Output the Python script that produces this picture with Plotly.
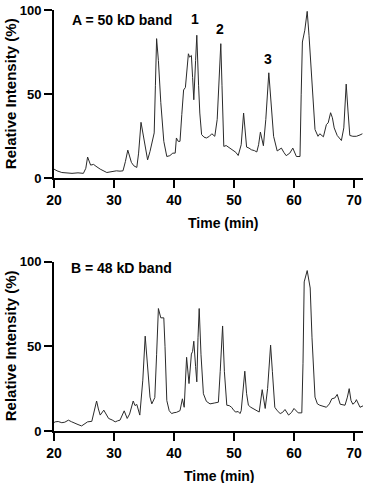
import plotly.graph_objects as go

# Panel A: 50 kD band
time_a = [20.0, 20.5, 21.3, 22.0, 23.0, 24.0, 24.9, 25.3, 25.6, 26.1, 26.6, 27.0, 27.7, 28.8, 29.5,
          30.4, 31.0, 31.5, 31.9, 32.3, 32.9, 33.3, 33.8, 34.1, 34.5, 35.1, 35.6, 36.0, 36.3, 36.7,
          36.9, 37.1, 37.4, 37.8, 38.3, 38.8, 39.3, 39.8, 40.2, 40.4, 40.7, 41.0, 41.3, 41.6, 41.9,
          42.2, 42.4, 42.6, 42.9, 43.1, 43.3, 43.6, 43.8, 44.1, 44.3, 44.6, 45.0, 45.4, 45.9, 46.3,
          46.8, 47.2, 47.5, 47.8, 48.0, 48.3, 48.7, 49.3, 49.9, 50.3, 50.7, 51.2, 51.6, 52.1, 52.5,
          52.9, 53.4, 53.8, 54.1, 54.4, 54.9, 55.3, 55.8, 56.1, 56.6, 57.2, 57.9, 58.3, 58.7, 59.3,
          59.8, 60.4, 61.0, 61.2, 61.4, 61.8, 62.2, 62.5, 62.9, 63.2, 63.5, 64.0, 64.3, 64.9, 65.4,
          65.7, 66.1, 66.4, 66.7, 67.2, 67.9, 68.3, 68.7, 69.0, 69.3, 69.8, 70.4, 71.0, 71.4]
int_a = [5.5, 4.5, 3.5, 3.2, 3.0, 3.3, 3.0, 6, 12.7, 7.9, 8.3, 7.2, 5.5, 3.5, 4.0,
         4.5, 4.3, 4.5, 10, 16.8, 9.5, 7.5, 6.5, 15, 33.3, 21.2, 11, 16, 21, 27,
         55, 83, 70, 45, 22, 13, 13.5, 15, 15, 24, 22, 22, 38, 52.5, 54,
         68, 74, 72, 73, 60, 46.7, 70, 85, 55, 38.8, 26, 24.5, 24, 25, 26.5,
         25, 35, 60, 80, 55, 19, 19.5, 18, 16, 15.5, 13.6, 20, 38.8, 18.6, 18,
         17, 16.5, 15.7, 20, 27.5, 19.4, 35, 62.7, 50, 25, 16.3, 18, 15.5, 13.5, 15,
         18, 13, 13, 50, 81, 88, 99.2, 85, 64, 45, 29, 25, 26.5, 24.7, 32,
         33, 39, 36, 30, 25.5, 22.5, 30, 56, 40, 25.5, 25, 25, 25.8, 26.5]

# Panel B: 48 kD band
time_b = [20.0, 20.2, 20.7, 21.3, 21.8, 22.4, 22.9, 23.5, 24.0, 24.6, 25.1, 25.6, 26.3, 26.7, 27.1,
          27.4, 27.7, 28.3, 28.7, 29.1, 29.7, 30.2, 30.6, 31.0, 31.7, 32.2, 32.6, 32.9, 33.2, 33.5,
          33.8, 34.3, 34.8, 35.2, 35.6, 36.0, 36.3, 36.8, 37.1, 37.4, 37.8, 38.3, 38.5, 38.8, 39.2,
          39.6, 40.0, 40.4, 41.0, 41.4, 41.7, 41.9, 42.1, 42.5, 42.9, 43.1, 43.3, 43.6, 43.8, 44.0,
          44.2, 44.5, 44.9, 45.4, 46.0, 46.7, 47.4, 47.7, 48.1, 48.4, 48.8, 49.2, 49.6, 50.0, 50.3,
          50.7, 51.0, 51.2, 51.5, 51.8, 52.1, 52.4, 52.8, 53.2, 53.7, 54.2, 54.7, 55.2, 55.6, 55.9,
          56.1, 56.4, 56.8, 57.2, 57.7, 58.1, 58.5, 59.1, 59.6, 60.0, 60.4, 60.7, 61.3, 61.5, 61.7,
          62.2, 62.7, 63.0, 63.5, 63.9, 64.3, 65.4, 65.9, 66.3, 66.8, 67.2, 67.7, 68.5, 68.9, 69.2,
          69.5, 69.8, 70.2, 70.4, 71.0, 71.6]
int_b = [5, 5.4, 5.6, 4.9, 5.2, 6.4, 5.5, 4.3, 3.8, 3, 4.2, 5.4, 5.7, 12, 17.7,
         13, 9.4, 12.3, 9.5, 7.4, 6.5, 5.4, 6.0, 6.4, 11.9, 7.4, 10, 14, 17.7, 15,
         15.7, 9.4, 30, 56, 35, 20, 16, 19.7, 45, 72.3, 66.8, 66.8, 50, 18, 12,
         10.3, 10.8, 11, 12, 19, 14, 30, 43.5, 28, 45.4, 47, 53, 38, 29, 55,
         72.3, 45, 22, 17.5, 16, 16.5, 17, 35, 62, 35, 15.2, 15, 14, 12, 11.2,
         11.5, 10.3, 12, 25, 35.3, 22, 15.2, 14, 13.3, 12.5, 11.2, 24.4, 13.3, 25, 45,
         50.7, 35, 14, 12, 10.3, 11, 12.7, 9.4, 11, 13.3, 12, 10.7, 10.7, 40, 88,
         94.7, 84.4, 55, 20, 16, 15.2, 14, 16, 19, 19.5, 21.6, 15.8, 15.2, 20, 25,
         18, 15.8, 17, 18.5, 14, 15]

x_ticks = [20, 30, 40, 50, 60, 70]
y_ticks = [0, 50, 100]
panel_labels = ["A = 50 kD band", "B = 48 kD band"]
peak_labels = ["1", "2", "3"]
peak_x = [43.5, 47.7, 55.7]
peak_y = [94.5, 89, 71]

FONT = "Liberation Sans, Arial, Helvetica, sans-serif"
LINE = "#2a2a2a"

fig = go.Figure()
fig.add_trace(go.Scatter(x=time_a, y=int_a, mode="lines", line=dict(color=LINE, width=1),
                         xaxis="x", yaxis="y", showlegend=False, hoverinfo="skip"))
fig.add_trace(go.Scatter(x=time_b, y=int_b, mode="lines", line=dict(color=LINE, width=1),
                         xaxis="x2", yaxis="y2", showlegend=False, hoverinfo="skip"))

axis_common = dict(showgrid=False, zeroline=False, showline=True, linecolor="black", linewidth=2,
                   ticks="outside", ticklen=8, tickwidth=1.5, tickcolor="black",
                   tickfont=dict(family=FONT, size=14, color="black", weight="bold"))

fig.update_layout(
    width=366, height=483,
    margin=dict(l=54, r=3, t=6, b=52),
    paper_bgcolor="white", plot_bgcolor="white",
    xaxis=dict(domain=[0, 1], range=[20, 71.5], tickvals=x_ticks, anchor="y", **axis_common),
    yaxis=dict(domain=[0.6, 1.0], range=[0, 100], tickvals=y_ticks, anchor="x", **{**axis_common, "tickfont": dict(family=FONT, size=13, color="black", weight="bold")}),
    xaxis2=dict(domain=[0, 1], range=[20, 71.5], tickvals=x_ticks, anchor="y2", **axis_common),
    yaxis2=dict(domain=[0, 0.4024], range=[0, 100], tickvals=y_ticks, anchor="x2", **{**axis_common, "tickfont": dict(family=FONT, size=13, color="black", weight="bold")}),
)

annots = []
# panel labels
annots.append(dict(xref="x", yref="y", x=22.6, y=94, text=panel_labels[0], showarrow=False,
                   xanchor="left", yanchor="middle", font=dict(family=FONT, size=14, color="black", weight="bold")))
annots.append(dict(xref="x2", yref="y2", x=22.5, y=96, text=panel_labels[1], showarrow=False,
                   xanchor="left", yanchor="middle", font=dict(family=FONT, size=14, color="black", weight="bold")))
for t, px, py in zip(peak_labels, peak_x, peak_y):
    annots.append(dict(xref="x", yref="y", x=px, y=py, text=t, showarrow=False,
                       xanchor="center", yanchor="middle", font=dict(family=FONT, size=14, color="black", weight="bold")))
# axis titles
for yc in [(0.6 + 1.0) / 2, 0.4024 / 2]:
    annots.append(dict(xref="paper", yref="paper", x=(10 - 54) / 309, y=yc, text="Relative Intensity (%)",
                       textangle=-90, showarrow=False, xanchor="center", yanchor="middle",
                       font=dict(family=FONT, size=15, color="black", weight="bold")))
annots.append(dict(xref="paper", yref="paper", x=(223 - 54) / 309, y=(431 - 221) / 425, text="Time (min)",
                   showarrow=False, xanchor="center", yanchor="middle",
                   font=dict(family=FONT, size=14, color="black", weight="bold")))
annots.append(dict(xref="paper", yref="paper", x=(220 - 54) / 309, y=(431 - 476) / 425, text="Time (min)",
                   showarrow=False, xanchor="center", yanchor="middle",
                   font=dict(family=FONT, size=14, color="black", weight="bold")))
fig.update_layout(annotations=annots)

fig.write_html("out.html")
